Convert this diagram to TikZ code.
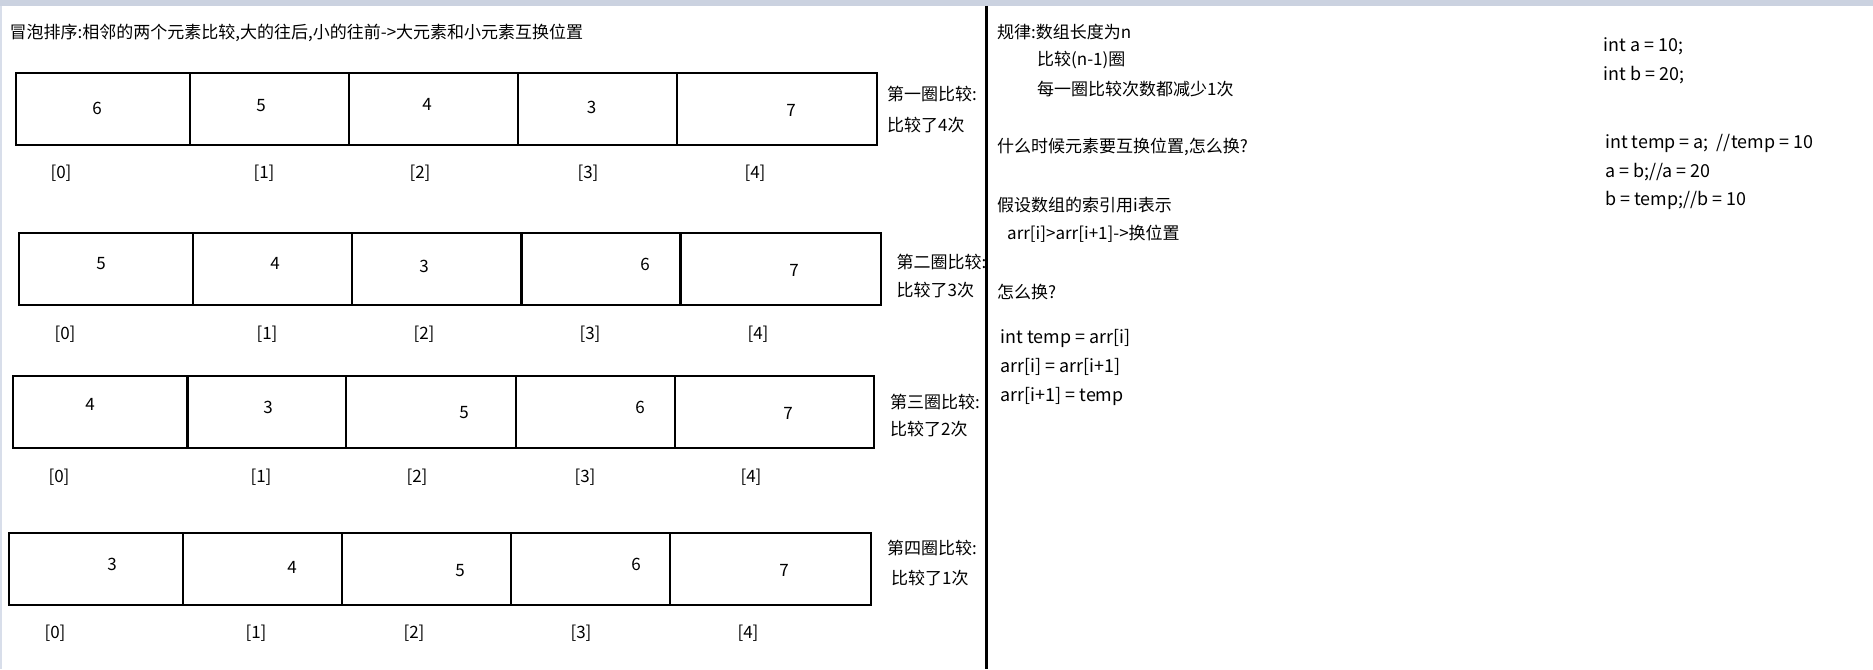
\documentclass[tikz,border=0pt]{standalone}
\usepackage{fontspec}
\setmainfont{Noto Sans CJK SC}
\definecolor{strip}{HTML}{CBD2E0}
\definecolor{edge}{HTML}{D8DEEA}
\tikzset{
  txt/.style={inner sep=0pt, font=\fontsize{17}{20}\selectfont, text=black},
  lbl/.style={txt, anchor=west},
  code/.style={lbl, font=\fontsize{17.9}{20}\selectfont},
  num/.style={txt, anchor=center},
  rowbox/.style={draw=black, line width=2.8pt},
  divider/.style={draw=black, line width=3pt}
}
\begin{document}
\begin{tikzpicture}[x=1pt, y=-1pt]
\useasboundingbox (0,0) rectangle (1873,669);
\fill[white] (0,0) rectangle (1873,669);
\fill[strip] (0,0) rectangle (1873,6);
\fill[edge] (0,6) rectangle (2,669);
\draw[divider] (986.5,6) -- (986.5,669);

\node[lbl] (title) at (9.5,33) {冒泡排序:相邻的两个元素比较,大的往后,小的往前->大元素和小元素互换位置};

% row 1
\draw[rowbox] (16,73) rectangle (877,145);
\foreach \x in {190,349,518,677} \draw[rowbox] (\x,73) -- (\x,145);
\node[num] (r1a) at (97,108) {6};
\node[num] (r1b) at (261,106) {5};
\node[num] (r1c) at (427,104) {4};
\node[num] (r1d) at (591.5,107) {3};
\node[num] (r1e) at (791,110) {7};
\foreach \x/\t [count=\k] in {61/0,264/1,420/2,588/3,755/4} \node[num] (i1\k) at (\x,173) {[\t]};
\node[lbl] (l1a) at (887,94) {第一圈比较:};
\node[lbl] (l1b) at (887,125) {比较了4次};

% row 2
\draw[rowbox] (19,233) rectangle (881,305);
\foreach \x in {193,352,521.5,680.5} \draw[rowbox] (\x,233) -- (\x,305);
\node[num] (r2a) at (101,264) {5};
\node[num] (r2b) at (275,263) {4};
\node[num] (r2c) at (424,266) {3};
\node[num] (r2d) at (645,264) {6};
\node[num] (r2e) at (794,270) {7};
\foreach \x/\t [count=\k] in {65/0,267/1,424/2,590/3,758/4} \node[num] (i2\k) at (\x,334) {[\t]};
\node[lbl] (l2a) at (896.5,262) {第二圈比较:};
\node[lbl] (l2b) at (896.5,290) {比较了3次};

% row 3
\draw[rowbox] (13,376) rectangle (874,448);
\foreach \x in {187.5,346,516,675} \draw[rowbox] (\x,376) -- (\x,448);
\node[num] (r3a) at (90,404) {4};
\node[num] (r3b) at (268,407) {3};
\node[num] (r3c) at (464,413) {5};
\node[num] (r3d) at (640,407) {6};
\node[num] (r3e) at (788,413) {7};
\foreach \x/\t [count=\k] in {59/0,261/1,417/2,585/3,751/4} \node[num] (i3\k) at (\x,477) {[\t]};
\node[lbl] (l3a) at (890,402) {第三圈比较:};
\node[lbl] (l3b) at (890,429) {比较了2次};

% row 4
\draw[rowbox] (9,533) rectangle (871,605);
\foreach \x in {183,342,511,670} \draw[rowbox] (\x,533) -- (\x,605);
\node[num] (r4a) at (112,564) {3};
\node[num] (r4b) at (292,567) {4};
\node[num] (r4c) at (460,571) {5};
\node[num] (r4d) at (636,564) {6};
\node[num] (r4e) at (784,570) {7};
\foreach \x/\t [count=\k] in {55/0,256/1,414/2,581/3,748/4} \node[num] (i4\k) at (\x,633) {[\t]};
\node[lbl] (l4a) at (887,548) {第四圈比较:};
\node[lbl] (l4b) at (891,578) {比较了1次};

% right notes
\node[lbl] (n1) at (997,31.7) {规律:数组长度为n};
\node[lbl] (n2) at (1037,60) {比较(n-1)圈};
\node[lbl] (n3) at (1037,89.3) {每一圈比较次数都减少1次};
\node[lbl] (n4) at (997,146.7) {什么时候元素要互换位置,怎么换?};
\node[lbl] (n5) at (997,205) {假设数组的索引用i表示};
\node[lbl] (n6) at (1007,234) {arr[i]>arr[i+1]->换位置};
\node[lbl] (n7) at (997,291.7) {怎么换?};
\node[code] (n8) at (1000.5,338.3) {int temp = arr[i]};
\node[code] (n9) at (1000.5,366.7) {arr[i] = arr[i+1]};
\node[code] (n10) at (1000.5,396.7) {arr[i+1] = temp};

\node[code] (c1) at (1603.6,46) {int a = 10;};
\node[code] (c2) at (1603.6,75) {int b = 20;};
\node[code] (c3) at (1605,143.3) {int temp = a;\ \ //temp = 10};
\node[code] (c4) at (1605,172.3) {a = b;//a = 20};
\node[code] (c5) at (1605,200.7) {b = temp;//b = 10};
\end{tikzpicture}
\end{document}
